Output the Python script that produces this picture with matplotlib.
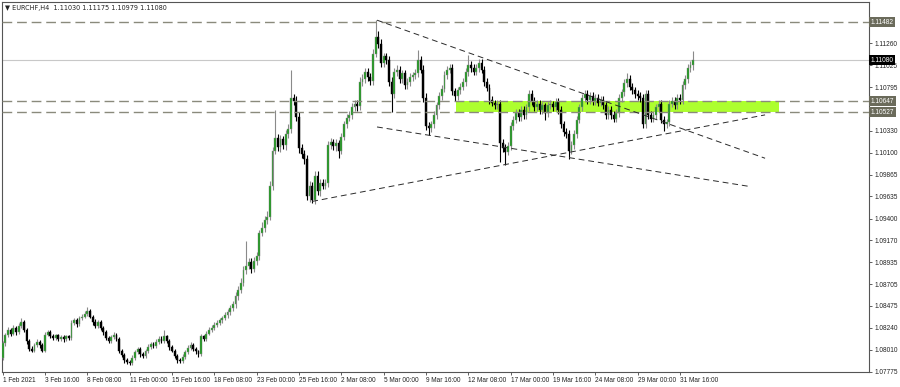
import numpy as np
import matplotlib
matplotlib.use('Agg')
import matplotlib.pyplot as plt
from matplotlib.transforms import ScaledTranslation, blended_transform_factory

# EURCHF H4, 1 Feb 2021 00:00 -> 1 Apr 2021 (one value per bar)
first_open = 1.0792
closes = [
    1.0808, 1.0816, 1.0822, 1.0818, 1.0824, 1.0820, 1.0826, 1.0830, 1.0822, 1.0810,
    1.0802, 1.0800, 1.0806, 1.0809, 1.0806, 1.0800, 1.0817, 1.0820, 1.0815, 1.0813,
    1.0816, 1.0812, 1.0814, 1.0812, 1.0815, 1.0813, 1.0829, 1.0832, 1.0828, 1.0834,
    1.0836, 1.0839, 1.0842, 1.0836, 1.0830, 1.0826, 1.0830, 1.0824, 1.0820, 1.0813,
    1.0810, 1.0814, 1.0817, 1.0812, 1.0800, 1.0795, 1.0790, 1.0788, 1.0787, 1.0792,
    1.0798, 1.0802, 1.0796, 1.0794, 1.0799, 1.0804, 1.0807, 1.0805, 1.0809, 1.0812,
    1.0810, 1.0815, 1.0810, 1.0804, 1.0800, 1.0794, 1.0790, 1.0789, 1.0793, 1.0798,
    1.0803, 1.0806, 1.0802, 1.0799, 1.0796, 1.0815, 1.0812, 1.0818, 1.0822, 1.0824,
    1.0827, 1.0829, 1.0832, 1.0834, 1.0838, 1.0841, 1.0845, 1.0849, 1.0858, 1.0864,
    1.0872, 1.0885, 1.0890, 1.0894, 1.0887, 1.0895, 1.0900, 1.0925, 1.0930, 1.0938,
    1.0942, 1.0975, 1.1012, 1.1025, 1.1016, 1.1024, 1.1018, 1.1030, 1.1035, 1.1068,
    1.1065, 1.1048, 1.1015, 1.1008, 1.1003, 1.0964, 1.0975, 1.0960, 1.0985, 1.0969,
    1.0978, 1.0975, 1.0978, 1.1018, 1.1021, 1.1017, 1.1020, 1.1012, 1.1027, 1.1040,
    1.1047, 1.1050, 1.1058, 1.1062, 1.1059, 1.1085, 1.1088, 1.1096, 1.1090, 1.1086,
    1.1115, 1.1133, 1.1125, 1.1105, 1.1112, 1.1108, 1.1085, 1.1072, 1.1095, 1.1098,
    1.1088, 1.1094, 1.1082, 1.1085, 1.1090, 1.1092, 1.1094, 1.1108, 1.1098, 1.1068,
    1.1038, 1.1036, 1.1040, 1.1050, 1.1060, 1.1070, 1.1078, 1.1092, 1.1098, 1.1100,
    1.1075, 1.1070, 1.1076, 1.1080, 1.1085, 1.1095, 1.1103, 1.1100, 1.1096, 1.1100,
    1.1105, 1.1098, 1.1085, 1.1079, 1.1066, 1.1063, 1.1060, 1.1062, 1.1020, 1.1015,
    1.1011, 1.1017, 1.1038, 1.1045, 1.1052, 1.1048, 1.1055, 1.1050, 1.1058, 1.1072,
    1.1065, 1.1058, 1.1062, 1.1055, 1.1060, 1.1052, 1.1060, 1.1062, 1.1058, 1.1064,
    1.1055, 1.1040, 1.1032, 1.1030, 1.1012, 1.1018, 1.1030, 1.1045, 1.1058, 1.1068,
    1.1072, 1.1066, 1.1070, 1.1065, 1.1068, 1.1063, 1.1066, 1.1060, 1.1050, 1.1055,
    1.1050, 1.1046, 1.1052, 1.1068, 1.1074, 1.1084, 1.1088, 1.1080, 1.1076, 1.1072,
    1.1070, 1.1068, 1.1040, 1.1072, 1.1050, 1.1046, 1.1050, 1.1058, 1.1062, 1.1045,
    1.1040, 1.1042, 1.1062, 1.1065, 1.1060, 1.1068, 1.1066, 1.1082, 1.1088, 1.1100,
    1.11030, 1.11080,
]
# wick lengths in pips above / below the body
wick_hi = [
    2, 3, 3, 2, 3, 2, 3, 4, 2, 2,   2, 3, 2, 3, 2, 2, 3, 2, 2, 3,
    2, 2, 3, 2, 2, 2, 3, 3, 2, 3,   3, 3, 4, 2, 2, 3, 2, 2, 2, 2,
    2, 3, 3, 2, 2, 2, 2, 2, 2, 3,   3, 2, 2, 2, 3, 3, 2, 2, 3, 3,
    3, 7, 2, 2, 2, 2, 2, 2, 3, 3,   3, 3, 2, 2, 2, 3, 2, 3, 3, 3,
    3, 3, 3, 3, 3, 3, 3, 4, 4, 4,   5, 5, 26, 4, 4, 4, 5, 3, 6, 5,
    6, 5, 4, 30, 5, 5, 4, 4, 5, 30,  4, 5, 5, 4, 5, 4, 5, 4, 5, 6,
    4, 4, 4, 4, 4, 3, 4, 3, 4, 4,   4, 4, 5, 4, 4, 5, 5, 4, 4, 4,
    5, 18, 6, 5, 4, 4, 4, 5, 5, 5,  4, 4, 4, 4, 4, 4, 5, 11, 5, 5,
    5, 4, 4, 4, 4, 4, 4, 5, 4, 4,   4, 4, 4, 4, 4, 5, 11, 4, 4, 4,
    4, 4, 4, 4, 4, 4, 3, 4, 4, 4,   4, 4, 4, 4, 4, 4, 4, 4, 4, 4,
    4, 4, 4, 4, 4, 3, 4, 4, 3, 4,   4, 4, 4, 4, 4, 4, 4, 4, 4, 4,
    4, 4, 4, 4, 4, 4, 4, 4, 4, 4,   4, 4, 4, 4, 4, 4, 6, 4, 4, 4,
    4, 4, 4, 4, 4, 4, 4, 4, 4, 4,   4, 4, 4, 4, 4, 4, 4, 4, 4, 4,
    4, 9.5,
]
wick_lo = [
    2, 3, 2, 3, 2, 3, 2, 2, 2, 3,   3, 2, 2, 2, 3, 2, 2, 2, 2, 2,
    2, 2, 2, 3, 2, 2, 2, 2, 3, 2,   2, 2, 2, 2, 3, 2, 2, 2, 3, 2,
    2, 2, 2, 2, 3, 2, 3, 2, 2, 2,   2, 2, 3, 2, 2, 2, 2, 2, 2, 2,
    2, 2, 2, 3, 2, 2, 3, 2, 2, 2,   2, 2, 2, 3, 3, 2, 2, 2, 2, 2,
    2, 2, 2, 3, 2, 3, 3, 3, 4, 4,   3, 4, 4, 4, 5, 4, 4, 4, 4, 4,
    4, 4, 5, 4, 4, 5, 4, 5, 4, 4,   5, 4, 5, 4, 5, 4, 6, 3, 5, 4,
    5, 4, 4, 5, 4, 4, 5, 8, 4, 4,   4, 4, 4, 4, 5, 4, 4, 4, 4, 4,
    4, 4, 4, 4, 4, 4, 4, 19, 4, 4,  4, 4, 4, 4, 4, 4, 4, 4, 4, 4,
    4, 7, 4, 4, 4, 4, 4, 4, 4, 4,   4, 5, 4, 4, 4, 4, 4, 4, 4, 4,
    4, 4, 4, 4, 4, 4, 4, 4, 20, 4,  14, 4, 4, 4, 4, 4, 4, 4, 4, 4,
    4, 4, 4, 4, 4, 7, 4, 4, 4, 4,   4, 4, 4, 4, 9, 4, 4, 4, 4, 4,
    4, 4, 4, 4, 4, 4, 4, 4, 4, 4,   4, 4, 4, 4, 4, 4, 4, 4, 4, 4,
    4, 4, 4, 4, 4, 4, 4, 4, 4, 4,   7, 4, 4, 4, 4, 4, 4, 4, 4, 4,
    4, 5.1,
]

time_labels = ["1 Feb 2021", "3 Feb 16:00", "8 Feb 08:00", "11 Feb 00:00", "15 Feb 16:00",
               "18 Feb 08:00", "23 Feb 00:00", "25 Feb 16:00", "2 Mar 08:00", "5 Mar 00:00",
               "9 Mar 16:00", "12 Mar 08:00", "17 Mar 00:00", "19 Mar 16:00", "24 Mar 08:00",
               "29 Mar 00:00", "31 Mar 16:00"]
bars_per_label = 16
price_ticks = [1.11260, 1.11025, 1.10795, 1.10565, 1.10330, 1.10100, 1.09865, 1.09635,
               1.09400, 1.09170, 1.08935, 1.08705, 1.08475, 1.08240, 1.08010, 1.07775]
hidden_ticks = [1.10565]   # covered by the level boxes in the terminal
levels = [1.11482, 1.10647, 1.10527]
last_price = 1.11080
zone = (171.4, 293.5, 1.10527, 1.10647)   # bar from, bar to, price low, price high
# trendlines: (bar, price) end points
trend_upper = [(141.5, 1.11505), (288.2, 1.10040)]
trend_lower = [(141.5, 1.10372), (282.5, 1.09740)]
trend_rise = [(117.0, 1.09582), (288.2, 1.10500)]
header = "\u25BC EURCHF,H4  1.11030 1.11175 1.10979 1.11080"

plt.rcParams['font.family'] = ['Liberation Sans', 'DejaVu Sans']
fig = plt.figure(figsize=(9, 3.87), dpi=100)
ax = fig.add_axes([0.0017, 0.0375, 0.9639, 0.9586])

n = len(closes)
opens = [first_open] + closes[:-1]
xs = np.arange(n)
green = '#1a9a1a'
upwick = '#8a8a8a'
for i in range(n):
    o, c = opens[i], closes[i]
    hi = max(o, c) + wick_hi[i] * 0.0001
    lo = min(o, c) - wick_lo[i] * 0.0001
    up = c >= o
    h = c - o if abs(c - o) > 0.00004 else 0.00004
    ax.vlines(xs[i], lo, hi, color=upwick if up else 'black', lw=0.8, zorder=3)
    ax.bar(xs[i], h, bottom=o, width=0.7, color=green if up else 'black',
           edgecolor=upwick if up else 'black', lw=0.3, zorder=4)

# support / resistance zone
ax.fill_between([zone[0], zone[1]], zone[2], zone[3], color='#adff2f', lw=0, zorder=2)

# horizontal levels
for lv in levels:
    ax.axhline(lv, color='#8a8a7c', lw=1.0, dashes=(7, 3.5), zorder=5)
ax.axhline(last_price, color='#c8c8c8', lw=0.8, zorder=1)

for tl in (trend_upper, trend_lower, trend_rise):
    ax.plot([tl[0][0], tl[1][0]], [tl[0][1], tl[1][1]], color='#2a2a2a', lw=0.7,
            dashes=(6, 4), zorder=6)

ax.set_xlim(-0.45, 327.5)
ax.set_ylim(1.07767, 1.11703)

# x axis
ax.set_xticks(np.arange(len(time_labels)) * bars_per_label)
ax.set_xticklabels(time_labels, ha='left', fontsize=4.7, color='#222222')
for lab in ax.get_xticklabels():
    lab.set_transform(lab.get_transform() + ScaledTranslation(1.5 / 72, 0, fig.dpi_scale_trans))
ax.tick_params(axis='x', length=2.5, width=0.6, pad=1, color='#444444')

# y axis on the right
ax.yaxis.tick_right()
ax.set_yticks(price_ticks)
ax.set_yticklabels(['' if p in hidden_ticks else '%.5f' % p for p in price_ticks],
                   fontsize=4.7, color='#222222')
ax.tick_params(axis='y', length=2.5, width=0.6, pad=1.5, color='#444444')

for sp in ax.spines.values():
    sp.set_color('#555555')
    sp.set_linewidth(0.8)

trans = blended_transform_factory(ax.transAxes, ax.transData)
for lv in levels:
    ax.text(1.002, lv, '%.5f' % lv, transform=trans, ha='left', va='center', fontsize=4.7,
            color='white', zorder=10, clip_on=False,
            bbox=dict(boxstyle='square,pad=0.25', fc='#6b6b5b', ec='none'))
ax.text(1.002, last_price, '%.5f' % last_price, transform=trans, ha='left', va='center',
        fontsize=4.7, color='white', zorder=11, clip_on=False,
        bbox=dict(boxstyle='square,pad=0.25', fc='black', ec='none'))

ax.text(0.004, 0.983, header, transform=ax.transAxes, fontsize=4.7, color='#222222',
        ha='left', va='center', family=['DejaVu Sans'])

fig.savefig('out.png', dpi=100)
